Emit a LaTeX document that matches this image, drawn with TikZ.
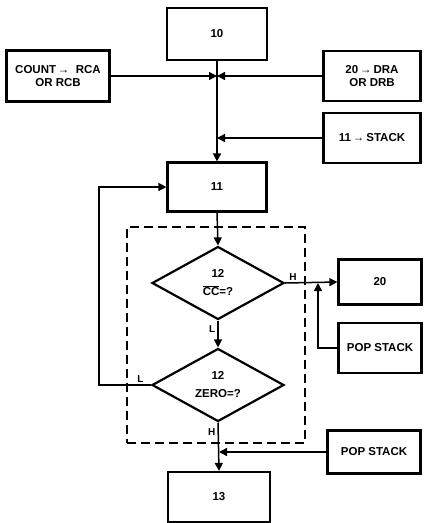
\documentclass[tikz,border=0pt]{standalone}
\usepackage{fontspec}
\setmainfont{Liberation Sans}
\usetikzlibrary{arrows.meta,positioning,shapes.geometric}

\begin{document}
\begin{tikzpicture}[
  x=1pt, y=-1pt,
  font=\bfseries\fontsize{11.5}{13}\selectfont, >={Triangle[length=8pt,width=8pt]},
  blk/.style={draw, line width=2.2pt, align=center, minimum width=100pt, minimum height=50pt, inner sep=1pt},
  test/.style={draw, diamond, line width=2.2pt, align=center, aspect=1.8, minimum width=132pt, minimum height=73pt, inner sep=0pt},
  grp/.style={draw, line width=2pt, dash pattern=on 9pt off 5pt, minimum width=178pt, minimum height=216pt},
  flow/.style={line width=1.5pt},
  tag/.style={font=\bfseries\fontsize{10}{11}\selectfont, inner sep=2pt},
]
\useasboundingbox (0,0) rectangle (424,523);
% (a) entry: block 10 and the two set-up blocks feeding the junction
\node[blk, minimum height=52pt] (b10) at (217,34) {10};
\node[blk, minimum width=103pt, minimum height=51pt] (count) at (58,76) {COUNT\,→\; RCA\\OR RCB};
\node[blk, minimum width=97pt] (dra) at (372,76) {20\,→\,DRA\\OR DRB};
\node[blk, minimum width=97pt] (push) at (372,138) {11\,→\,STACK};
% (b) block 11 and the test group
\node[blk, minimum width=99pt, minimum height=49pt] (b11) at (217,187) {11};
\node[grp] (group) at (216,335) {};
\node[test] (cc) at (218,283) {12\\[5pt]$\overline{\hbox{CC}}$=?};
\node[test] (zero) at (218,385) {12\\[5pt]ZERO=?};
% (c) exits
\node[blk, minimum width=83pt, minimum height=45pt] (b20) at (380,282) {20};
\node[blk, minimum width=83pt, minimum height=50pt] (popa) at (380,348) {POP STACK};
\node[blk, minimum width=93pt, minimum height=43pt] (popb) at (374,452) {POP STACK};
\node[blk, minimum width=102pt, minimum height=50pt] (b13) at (219,497) {13};
% junction points
\coordinate (join) at (b10.south |- count.east);
\coordinate (merge) at (318,283);
% arrows
\draw[flow, ->] (b10.south) -- (b11.north);
\draw[flow, ->] (count.east) -- (join);
\draw[flow, ->] (dra.west) -- (join);
\draw[flow, ->] (push.west) -- (push.west -| b10.south);
\draw[flow, ->] (b11.south) -- (cc.north);
\draw[flow, ->] (cc.south) -- node[tag, left, pos=0.3]{L} (zero.north);
\draw[flow, ->] (cc.east) -- node[tag, above, pos=0.15]{H} (b20.west);
\draw[flow, ->] (popa.west) -| (merge);
\draw[flow, ->] (zero.west) -- node[tag, above, pos=0.2]{L} ++(-52,0) |- (b11.west);
\draw[flow, ->] (zero.south) -- node[tag, left, pos=0.2]{H} (b13.north);
\draw[flow, ->] (popb.west) -- (popb.west -| b13.north);
\end{tikzpicture}
\end{document}
